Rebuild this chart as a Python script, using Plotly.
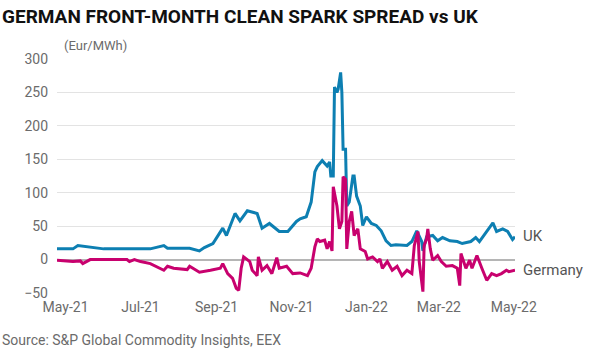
import plotly.graph_objects as go

# ---- data ----
uk_dates = ["2021-04-24","2021-05-07","2021-05-11","2021-05-21","2021-06-01","2021-06-20","2021-07-09",
            "2021-07-20","2021-07-23","2021-08-10","2021-08-18","2021-08-22","2021-08-29","2021-09-06",
            "2021-09-09","2021-09-16","2021-09-20","2021-09-26","2021-10-04","2021-10-08","2021-10-14",
            "2021-10-22","2021-10-29","2021-11-05","2021-11-08","2021-11-13","2021-11-17","2021-11-20",
            "2021-11-22","2021-11-26","2021-11-30","2021-12-02","2021-12-03","2021-12-05","2021-12-06",
            "2021-12-08","2021-12-09","2021-12-11","2021-12-12","2021-12-13","2021-12-15","2021-12-16",
            "2021-12-18","2021-12-21","2021-12-22","2021-12-24","2021-12-27","2021-12-29","2022-01-01",
            "2022-01-05","2022-01-09","2022-01-13","2022-01-17","2022-01-21","2022-01-25","2022-02-03",
            "2022-02-07","2022-02-11","2022-02-15","2022-02-16","2022-02-19","2022-02-24","2022-02-28",
            "2022-03-04","2022-03-10","2022-03-16","2022-03-20","2022-03-27","2022-03-31","2022-04-03",
            "2022-04-09","2022-04-14","2022-04-17","2022-04-22","2022-04-26","2022-04-30","2022-05-02"]
uk_values = [16, 16, 21, 19, 16, 16, 16,
             21, 17, 17, 13, 18, 24, 47,
             36, 69, 58, 73, 69, 47, 54,
             42, 42, 57, 61, 64, 86, 131,
             139, 148, 140, 146, 125, 125, 258,
             250, 255, 280, 250, 165, 165, 80,
             86, 125, 125, 95, 80, 51, 64,
             54, 51, 43, 28, 21, 22, 21,
             27, 43, 27, 13, 34, 36, 28,
             33, 28, 27, 24, 27, 33, 27,
             43, 55, 42, 46, 42, 30, 34]

de_dates = ["2021-04-24","2021-05-07","2021-05-13","2021-05-15","2021-05-21","2021-06-20","2021-06-22",
            "2021-06-26","2021-07-01","2021-07-09","2021-07-20","2021-07-23","2021-07-28","2021-08-08",
            "2021-08-10","2021-08-18","2021-08-27","2021-09-04","2021-09-06","2021-09-10","2021-09-14",
            "2021-09-17","2021-09-19","2021-09-21","2021-09-23","2021-09-28","2021-09-30","2021-10-04",
            "2021-10-05","2021-10-08","2021-10-12","2021-10-16","2021-10-20","2021-10-22","2021-10-28",
            "2021-11-02","2021-11-08","2021-11-14","2021-11-17","2021-11-20","2021-11-22","2021-11-24",
            "2021-11-28","2021-11-30","2021-12-02","2021-12-04","2021-12-05","2021-12-08","2021-12-10",
            "2021-12-12","2021-12-13","2021-12-15","2021-12-16","2021-12-18","2021-12-20","2021-12-22",
            "2021-12-25","2021-12-27","2021-12-31","2022-01-02","2022-01-06","2022-01-10","2022-01-12",
            "2022-01-14","2022-01-18","2022-01-22","2022-01-26","2022-01-30","2022-02-03","2022-02-07",
            "2022-02-09","2022-02-12","2022-02-13","2022-02-15","2022-02-16","2022-02-17","2022-02-19",
            "2022-02-20","2022-02-22","2022-02-24","2022-02-28","2022-03-03","2022-03-07","2022-03-12",
            "2022-03-16","2022-03-18","2022-03-19","2022-03-23","2022-03-26","2022-03-28","2022-04-01",
            "2022-04-05","2022-04-09","2022-04-13","2022-04-17","2022-04-21","2022-04-25","2022-04-27",
            "2022-05-02"]
de_values = [-1, -3, -2, -6, 0, 0, -3,
             0, -3, -6, -16, -10, -13, -15,
             -10, -19, -16, -13, -6, -21, -28,
             -43, -46, -13, 4, -3, -16, -24,
             4, -16, -9, -21, 3, -13, -10,
             -21, -20, -24, -13, 19, 31, 27,
             29, 16, 27, 13, 109, 80, 46,
             57, 124, 120, 16, 57, 72, 36,
             46, 16, 12, 1, 4, -3, 1,
             -13, -3, -16, -10, -24, -16, -21,
             21, 42, -3, -28, -48, 21, 31,
             46, 16, -1, 6, -3, -10, -9,
             -13, -39, 9, -13, -1, -13, 6,
             -13, -31, -21, -24, -21, -16, -18,
             -16]

tick_vals = ["2021-05-01","2021-07-01","2021-09-01","2021-11-01","2022-01-01","2022-03-01","2022-05-01"]
tick_text = ["May-21","Jul-21","Sep-21","Nov-21","Jan-22","Mar-22","May-22"]
y_ticks = [-50, 0, 50, 100, 150, 200, 250, 300]

UK_COLOR = "#0d7fb2"
DE_COLOR = "#c8016e"
FONT = "Roboto"
GRAY = "#6b6b6b"

fig = go.Figure()
fig.add_trace(go.Scatter(x=uk_dates, y=uk_values, mode="lines", name="UK",
                         line=dict(color=UK_COLOR, width=3)))
fig.add_trace(go.Scatter(x=de_dates, y=de_values, mode="lines", name="Germany",
                         line=dict(color=DE_COLOR, width=3)))

fig.update_layout(
    width=600, height=363,
    margin=dict(l=57, r=85, t=59, b=70),
    paper_bgcolor="white", plot_bgcolor="white",
    showlegend=False,
    font=dict(family=FONT, color=GRAY, size=14),
    xaxis=dict(range=["2021-04-24", "2022-05-02"], tickvals=tick_vals, ticktext=tick_text,
               showgrid=False, zeroline=False, showline=False, ticks="",
               tickfont=dict(size=14, color=GRAY), ticklabelstandoff=4),
    yaxis=dict(range=[-50, 300], tickvals=y_ticks, showgrid=True, gridcolor="#e3e3e3",
               gridwidth=1, zeroline=True, zerolinecolor="#b5b5b5", zerolinewidth=1.5,
               showline=False, ticks="", tickfont=dict(size=14, color=GRAY),
               ticklabelstandoff=8),
)

fig.add_annotation(text="<b>GERMAN FRONT-MONTH CLEAN SPARK SPREAD vs UK</b>",
                   xref="paper", yref="paper", x=-57/458, y=1 + 43/234,
                   xanchor="left", yanchor="middle", showarrow=False,
                   font=dict(family=FONT, size=19, color="#111111"))
fig.add_annotation(text="(Eur/MWh)", xref="paper", yref="paper", x=5/458, y=1 + 14/234,
                   xanchor="left", yanchor="middle", showarrow=False,
                   font=dict(family=FONT, size=13, color=GRAY))
fig.add_annotation(text="UK", xref="paper", yref="y", x=1 + 6/458, y=36,
                   xanchor="left", yanchor="middle", showarrow=False,
                   font=dict(family=FONT, size=15, color="#555555"))
fig.add_annotation(text="Germany", xref="paper", yref="y", x=1 + 6/458, y=-15,
                   xanchor="left", yanchor="middle", showarrow=False,
                   font=dict(family=FONT, size=15, color="#555555"))
fig.add_annotation(text="Source: S&P Global Commodity Insights, EEX", xref="paper", yref="paper",
                   x=-57/458, y=-47/234, xanchor="left", yanchor="middle", showarrow=False,
                   font=dict(family=FONT, size=14, color=GRAY))

fig.write_html("out.html", config={"displayModeBar": False},
               post_script="document.body.style.margin='0';document.body.style.overflow='hidden';")
